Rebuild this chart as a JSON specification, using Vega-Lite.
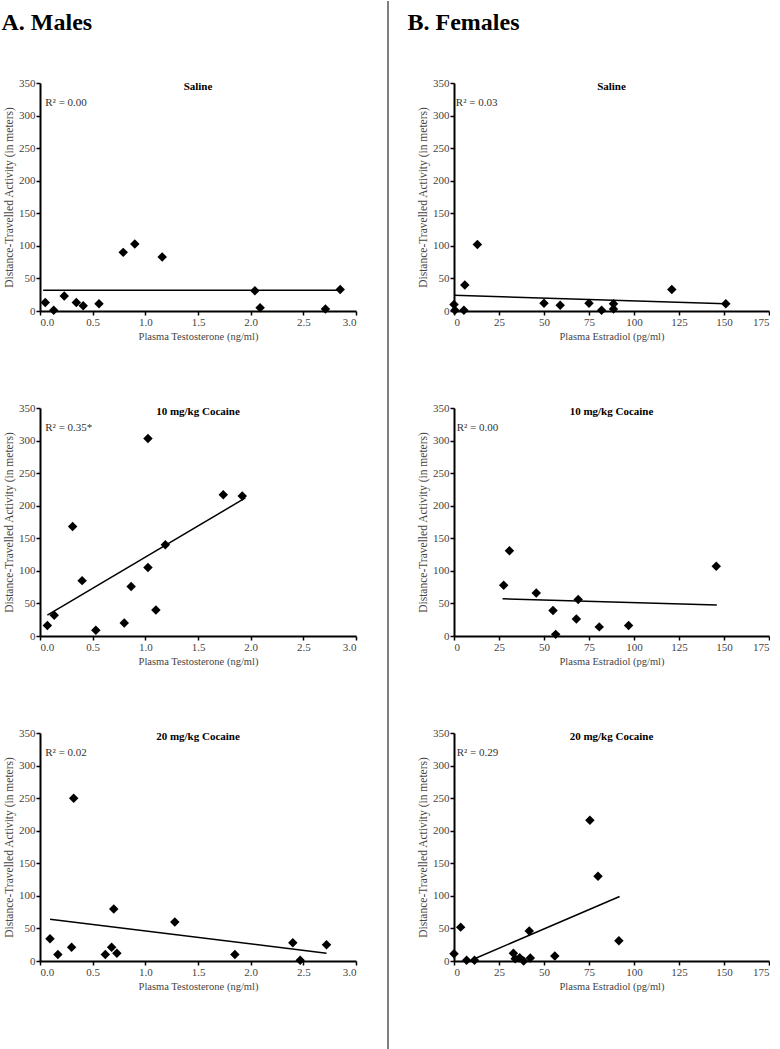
{
  "$schema": "https://vega.github.io/schema/vega-lite/v6.json",
  "padding": {"left": 1, "top": 0, "right": 0, "bottom": 0},
  "background": "white",
  "config": {
    "font": "Liberation Serif",
    "title": {"font": "Liberation Serif"},
    "view": {"stroke": null},
    "axis": {
      "grid": false,
      "domainColor": "black",
      "domainWidth": 2,
      "tickColor": "black",
      "tickWidth": 1.5,
      "tickSize": 4,
      "labelColor": "#444",
      "labelFont": "Liberation Serif",
      "labelFontSize": 11,
      "labelPadding": 1,
      "labelOverlap": false,
      "titleColor": "#444",
      "titleFont": "Liberation Serif",
      "titleFontSize": 10.5,
      "titleFontWeight": "normal"
    },
    "axisY": {"tickCount": 7, "titleFontSize": 11.5}
  },
  "datasets": {
    "pts": [
      {"p": "ms", "x": 0.05, "y": 13}, {"p": "ms", "x": 0.13, "y": 1}, {"p": "ms", "x": 0.23, "y": 23}, {"p": "ms", "x": 0.345, "y": 13}, {"p": "ms", "x": 0.41, "y": 8}, {"p": "ms", "x": 0.56, "y": 11}, {"p": "ms", "x": 0.79, "y": 90}, {"p": "ms", "x": 0.9, "y": 103}, {"p": "ms", "x": 1.16, "y": 83}, {"p": "ms", "x": 2.04, "y": 31}, {"p": "ms", "x": 2.09, "y": 5}, {"p": "ms", "x": 2.71, "y": 3}, {"p": "ms", "x": 2.85, "y": 33},
      {"p": "fs", "x": 0, "y": 10}, {"p": "fs", "x": 0.5, "y": 1}, {"p": "fs", "x": 5.5, "y": 1}, {"p": "fs", "x": 6, "y": 40}, {"p": "fs", "x": 13, "y": 102}, {"p": "fs", "x": 50, "y": 12}, {"p": "fs", "x": 59, "y": 9}, {"p": "fs", "x": 75, "y": 12}, {"p": "fs", "x": 82, "y": 1}, {"p": "fs", "x": 88.6, "y": 11}, {"p": "fs", "x": 88.6, "y": 3}, {"p": "fs", "x": 121, "y": 33}, {"p": "fs", "x": 151, "y": 11},
      {"p": "m10", "x": 0.07, "y": 16}, {"p": "m10", "x": 0.135, "y": 32}, {"p": "m10", "x": 0.31, "y": 168}, {"p": "m10", "x": 0.4, "y": 85}, {"p": "m10", "x": 0.53, "y": 9}, {"p": "m10", "x": 0.8, "y": 20}, {"p": "m10", "x": 0.865, "y": 76}, {"p": "m10", "x": 1.025, "y": 303}, {"p": "m10", "x": 1.025, "y": 105}, {"p": "m10", "x": 1.1, "y": 40}, {"p": "m10", "x": 1.19, "y": 140}, {"p": "m10", "x": 1.74, "y": 217}, {"p": "m10", "x": 1.92, "y": 215},
      {"p": "f10", "x": 27.6, "y": 78}, {"p": "f10", "x": 30.8, "y": 131}, {"p": "f10", "x": 45.7, "y": 66}, {"p": "f10", "x": 55, "y": 39}, {"p": "f10", "x": 56.5, "y": 2.5}, {"p": "f10", "x": 68, "y": 26}, {"p": "f10", "x": 69, "y": 56}, {"p": "f10", "x": 80.7, "y": 14}, {"p": "f10", "x": 97, "y": 16}, {"p": "f10", "x": 145.7, "y": 107},
      {"p": "m20", "x": 0.095, "y": 34}, {"p": "m20", "x": 0.17, "y": 10}, {"p": "m20", "x": 0.3, "y": 21}, {"p": "m20", "x": 0.32, "y": 250}, {"p": "m20", "x": 0.62, "y": 10}, {"p": "m20", "x": 0.68, "y": 21}, {"p": "m20", "x": 0.7, "y": 80}, {"p": "m20", "x": 0.73, "y": 12}, {"p": "m20", "x": 1.28, "y": 60}, {"p": "m20", "x": 1.85, "y": 10}, {"p": "m20", "x": 2.4, "y": 28}, {"p": "m20", "x": 2.47, "y": 1}, {"p": "m20", "x": 2.72, "y": 25},
      {"p": "f20", "x": 0, "y": 11}, {"p": "f20", "x": 3.7, "y": 52}, {"p": "f20", "x": 7, "y": 1}, {"p": "f20", "x": 11.4, "y": 1}, {"p": "f20", "x": 33, "y": 12}, {"p": "f20", "x": 34, "y": 3.5}, {"p": "f20", "x": 36.5, "y": 5}, {"p": "f20", "x": 38.7, "y": 0}, {"p": "f20", "x": 41.8, "y": 46}, {"p": "f20", "x": 42.4, "y": 4.5}, {"p": "f20", "x": 56, "y": 7.5}, {"p": "f20", "x": 75.5, "y": 216}, {"p": "f20", "x": 80, "y": 130}, {"p": "f20", "x": 91.6, "y": 31}
    ],
    "fit": [
      {"p": "ms", "x": 0.03, "y": 32}, {"p": "ms", "x": 2.85, "y": 32},
      {"p": "fs", "x": 0, "y": 24}, {"p": "fs", "x": 151, "y": 11},
      {"p": "m10", "x": 0.07, "y": 32}, {"p": "m10", "x": 1.95, "y": 212},
      {"p": "f10", "x": 27, "y": 57}, {"p": "f10", "x": 146, "y": 47.5},
      {"p": "m20", "x": 0.095, "y": 64}, {"p": "m20", "x": 2.72, "y": 12},
      {"p": "f20", "x": 11.4, "y": 3.5}, {"p": "f20", "x": 92, "y": 99}
    ]
  },
  "spacing": 0,
  "hconcat": [
    {
      "title": {"text": "A. Males", "anchor": "start", "fontSize": 24, "fontWeight": "bold", "font": "Liberation Serif", "color": "black", "offset": 42, "dx": -2},
      "spacing": 60,
      "vconcat": [
        {
          "width": 316, "height": 228,
          "layer": [
            {"data": {"name": "pts"}, "transform": [{"filter": "datum.p == 'ms'"}],
             "mark": {"type": "point", "shape": "diamond", "filled": true, "color": "black", "size": 90, "opacity": 1},
             "encoding": {
               "x": {"field": "x", "type": "quantitative", "scale": {"domain": [0, 3], "nice": false}, "axis": {"title": "Plasma Testosterone (ng/ml)", "format": ".1f", "values": [0, 0.5, 1, 1.5, 2, 2.5, 3]}},
               "y": {"field": "y", "type": "quantitative", "scale": {"domain": [0, 350], "nice": false}, "axis": {"title": "Distance-Travelled Activity (in meters)"}}}},
            {"data": {"name": "fit"}, "transform": [{"filter": "datum.p == 'ms'"}],
             "mark": {"type": "line", "color": "black", "strokeWidth": 1.5},
             "encoding": {"x": {"field": "x", "type": "quantitative"}, "y": {"field": "y", "type": "quantitative"}}},
            {"data": {"values": [{}]}, "mark": {"type": "text", "font": "Liberation Serif", "fontWeight": "bold", "fontSize": 11, "baseline": "middle", "align": "center", "color": "black"},
             "encoding": {"x": {"datum": 1.5}, "y": {"datum": 344}, "text": {"value": "Saline"}}},
            {"data": {"values": [{}]}, "mark": {"type": "text", "font": "Liberation Serif", "fontSize": 11, "baseline": "middle", "align": "left", "color": "#333"},
             "encoding": {"x": {"datum": 0.05}, "y": {"datum": 320}, "text": {"value": "R² = 0.00"}}}
          ]
        },
        {
          "width": 316, "height": 228,
          "layer": [
            {"data": {"name": "pts"}, "transform": [{"filter": "datum.p == 'm10'"}],
             "mark": {"type": "point", "shape": "diamond", "filled": true, "color": "black", "size": 90, "opacity": 1},
             "encoding": {
               "x": {"field": "x", "type": "quantitative", "scale": {"domain": [0, 3], "nice": false}, "axis": {"title": "Plasma Testosterone (ng/ml)", "format": ".1f", "values": [0, 0.5, 1, 1.5, 2, 2.5, 3]}},
               "y": {"field": "y", "type": "quantitative", "scale": {"domain": [0, 350], "nice": false}, "axis": {"title": "Distance-Travelled Activity (in meters)"}}}},
            {"data": {"name": "fit"}, "transform": [{"filter": "datum.p == 'm10'"}],
             "mark": {"type": "line", "color": "black", "strokeWidth": 1.5},
             "encoding": {"x": {"field": "x", "type": "quantitative"}, "y": {"field": "y", "type": "quantitative"}}},
            {"data": {"values": [{}]}, "mark": {"type": "text", "font": "Liberation Serif", "fontWeight": "bold", "fontSize": 11, "baseline": "middle", "align": "center", "color": "black"},
             "encoding": {"x": {"datum": 1.5}, "y": {"datum": 344}, "text": {"value": "10 mg/kg Cocaine"}}},
            {"data": {"values": [{}]}, "mark": {"type": "text", "font": "Liberation Serif", "fontSize": 11, "baseline": "middle", "align": "left", "color": "#333"},
             "encoding": {"x": {"datum": 0.05}, "y": {"datum": 320}, "text": {"value": "R² = 0.35*"}}}
          ]
        },
        {
          "width": 316, "height": 228,
          "layer": [
            {"data": {"name": "pts"}, "transform": [{"filter": "datum.p == 'm20'"}],
             "mark": {"type": "point", "shape": "diamond", "filled": true, "color": "black", "size": 90, "opacity": 1},
             "encoding": {
               "x": {"field": "x", "type": "quantitative", "scale": {"domain": [0, 3], "nice": false}, "axis": {"title": "Plasma Testosterone (ng/ml)", "format": ".1f", "values": [0, 0.5, 1, 1.5, 2, 2.5, 3]}},
               "y": {"field": "y", "type": "quantitative", "scale": {"domain": [0, 350], "nice": false}, "axis": {"title": "Distance-Travelled Activity (in meters)"}}}},
            {"data": {"name": "fit"}, "transform": [{"filter": "datum.p == 'm20'"}],
             "mark": {"type": "line", "color": "black", "strokeWidth": 1.5},
             "encoding": {"x": {"field": "x", "type": "quantitative"}, "y": {"field": "y", "type": "quantitative"}}},
            {"data": {"values": [{}]}, "mark": {"type": "text", "font": "Liberation Serif", "fontWeight": "bold", "fontSize": 11, "baseline": "middle", "align": "center", "color": "black"},
             "encoding": {"x": {"datum": 1.5}, "y": {"datum": 344}, "text": {"value": "20 mg/kg Cocaine"}}},
            {"data": {"values": [{}]}, "mark": {"type": "text", "font": "Liberation Serif", "fontSize": 11, "baseline": "middle", "align": "left", "color": "#333"},
             "encoding": {"x": {"datum": 0.05}, "y": {"datum": 320}, "text": {"value": "R² = 0.02"}}}
          ]
        }
      ]
    },
    {
      "data": {"values": [{}]},
      "width": 50, "height": 967,
      "mark": {"type": "rule", "color": "black", "strokeWidth": 1},
      "encoding": {
        "x": {"datum": 31, "type": "quantitative", "scale": {"domain": [0, 50], "nice": false, "zero": false}, "axis": null},
        "y": {"datum": 0, "type": "quantitative", "scale": {"domain": [0, 967], "nice": false}, "axis": null},
        "y2": {"datum": 1049}
      }
    },
    {
      "title": {"text": "B. Females", "anchor": "start", "fontSize": 24, "fontWeight": "bold", "font": "Liberation Serif", "color": "black", "offset": 42, "dx": -10},
      "spacing": 60,
      "vconcat": [
        {
          "width": 315, "height": 228,
          "layer": [
            {"data": {"name": "pts"}, "transform": [{"filter": "datum.p == 'fs'"}],
             "mark": {"type": "point", "shape": "diamond", "filled": true, "color": "black", "size": 90, "opacity": 1},
             "encoding": {
               "x": {"field": "x", "type": "quantitative", "scale": {"domain": [0, 175], "nice": false}, "axis": {"title": "Plasma Estradiol (pg/ml)", "values": [0, 25, 50, 75, 100, 125, 150, 175]}},
               "y": {"field": "y", "type": "quantitative", "scale": {"domain": [0, 350], "nice": false}, "axis": {"title": "Distance-Travelled Activity (in meters)"}}}},
            {"data": {"name": "fit"}, "transform": [{"filter": "datum.p == 'fs'"}],
             "mark": {"type": "line", "color": "black", "strokeWidth": 1.5},
             "encoding": {"x": {"field": "x", "type": "quantitative"}, "y": {"field": "y", "type": "quantitative"}}},
            {"data": {"values": [{}]}, "mark": {"type": "text", "font": "Liberation Serif", "fontWeight": "bold", "fontSize": 11, "baseline": "middle", "align": "center", "color": "black"},
             "encoding": {"x": {"datum": 87.5}, "y": {"datum": 344}, "text": {"value": "Saline"}}},
            {"data": {"values": [{}]}, "mark": {"type": "text", "font": "Liberation Serif", "fontSize": 11, "baseline": "middle", "align": "left", "color": "#333"},
             "encoding": {"x": {"datum": 1}, "y": {"datum": 320}, "text": {"value": "R² = 0.03"}}}
          ]
        },
        {
          "width": 315, "height": 228,
          "layer": [
            {"data": {"name": "pts"}, "transform": [{"filter": "datum.p == 'f10'"}],
             "mark": {"type": "point", "shape": "diamond", "filled": true, "color": "black", "size": 90, "opacity": 1},
             "encoding": {
               "x": {"field": "x", "type": "quantitative", "scale": {"domain": [0, 175], "nice": false}, "axis": {"title": "Plasma Estradiol (pg/ml)", "values": [0, 25, 50, 75, 100, 125, 150, 175]}},
               "y": {"field": "y", "type": "quantitative", "scale": {"domain": [0, 350], "nice": false}, "axis": {"title": "Distance-Travelled Activity (in meters)"}}}},
            {"data": {"name": "fit"}, "transform": [{"filter": "datum.p == 'f10'"}],
             "mark": {"type": "line", "color": "black", "strokeWidth": 1.5},
             "encoding": {"x": {"field": "x", "type": "quantitative"}, "y": {"field": "y", "type": "quantitative"}}},
            {"data": {"values": [{}]}, "mark": {"type": "text", "font": "Liberation Serif", "fontWeight": "bold", "fontSize": 11, "baseline": "middle", "align": "center", "color": "black"},
             "encoding": {"x": {"datum": 87.5}, "y": {"datum": 344}, "text": {"value": "10 mg/kg Cocaine"}}},
            {"data": {"values": [{}]}, "mark": {"type": "text", "font": "Liberation Serif", "fontSize": 11, "baseline": "middle", "align": "left", "color": "#333"},
             "encoding": {"x": {"datum": 1.5}, "y": {"datum": 320}, "text": {"value": "R² = 0.00"}}}
          ]
        },
        {
          "width": 315, "height": 228,
          "layer": [
            {"data": {"name": "pts"}, "transform": [{"filter": "datum.p == 'f20'"}],
             "mark": {"type": "point", "shape": "diamond", "filled": true, "color": "black", "size": 90, "opacity": 1},
             "encoding": {
               "x": {"field": "x", "type": "quantitative", "scale": {"domain": [0, 175], "nice": false}, "axis": {"title": "Plasma Estradiol (pg/ml)", "values": [0, 25, 50, 75, 100, 125, 150, 175]}},
               "y": {"field": "y", "type": "quantitative", "scale": {"domain": [0, 350], "nice": false}, "axis": {"title": "Distance-Travelled Activity (in meters)"}}}},
            {"data": {"name": "fit"}, "transform": [{"filter": "datum.p == 'f20'"}],
             "mark": {"type": "line", "color": "black", "strokeWidth": 1.5},
             "encoding": {"x": {"field": "x", "type": "quantitative"}, "y": {"field": "y", "type": "quantitative"}}},
            {"data": {"values": [{}]}, "mark": {"type": "text", "font": "Liberation Serif", "fontWeight": "bold", "fontSize": 11, "baseline": "middle", "align": "center", "color": "black"},
             "encoding": {"x": {"datum": 87.5}, "y": {"datum": 344}, "text": {"value": "20 mg/kg Cocaine"}}},
            {"data": {"values": [{}]}, "mark": {"type": "text", "font": "Liberation Serif", "fontSize": 11, "baseline": "middle", "align": "left", "color": "#333"},
             "encoding": {"x": {"datum": 1.5}, "y": {"datum": 320}, "text": {"value": "R² = 0.29"}}}
          ]
        }
      ]
    }
  ]
}
